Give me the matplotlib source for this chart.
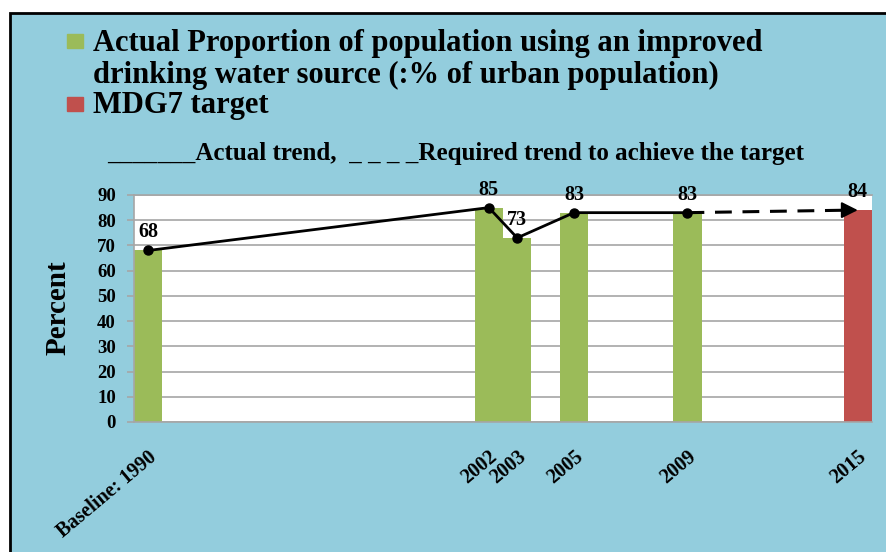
import numpy as np
import matplotlib.pyplot as plt
from matplotlib.patches import Rectangle

plt.rcParams['font.family'] = ['Liberation Serif', 'DejaVu Serif']
plt.rcParams['font.weight'] = 'bold'

# Urban population using an improved drinking water source (%)
years = [1990, 2002, 2003, 2005, 2009, 2015]
tick_labels = ["Baseline: 1990", "2002", "2003", "2005", "2009", "2015"]
values = [68, 85, 73, 83, 83, 84]
is_target = [False, False, False, False, False, True]

GREEN = '#9BBB59'
RED = '#C0504D'
PANEL = '#93CDDD'
GRID = '#A6A6A6'

W, H = 886, 552
fig = plt.figure(figsize=(W / 100, H / 100), dpi=100)
fig.patch.set_facecolor('white')


def px(x, y):
    # pixel position (from top-left) -> figure fraction
    return x / W, 1 - y / H


# blue backdrop with black frame on top/left
fig.add_artist(Rectangle((10 / W, -0.1), 1.2, 1 - 13 / H + 0.1,
                         transform=fig.transFigure, facecolor=PANEL,
                         edgecolor='black', linewidth=2, zorder=0))

ax = fig.add_axes([134 / W, 1 - 422 / H, 738 / W, 227 / H])
ax.set_facecolor('white')

colors = [RED if t else GREEN for t in is_target]
ax.bar(years, values, width=1, align='edge', color=colors, zorder=2)

ax.set_xlim(1990, 2016)
ax.set_ylim(0, 90)
ax.set_yticks(range(0, 91, 10))
ax.yaxis.grid(True, color=GRID, linewidth=1.2)
ax.set_axisbelow(True)
for side in ['left', 'bottom', 'top']:
    ax.spines[side].set_color(GRID)
    ax.spines[side].set_linewidth(1.2)
ax.spines['right'].set_visible(False)

# actual trend (solid) and required trend (dashed arrow)
mid = np.array(years) + 0.5
ax.plot(mid[:5], values[:5], color='black', lw=2, marker='o', ms=6.5, zorder=4)
ax.plot([mid[4], mid[5] - 0.25], [values[4], values[5]], color='black', lw=2.2,
        dashes=(5.5, 3.5), zorder=4)
ax.annotate('', xy=(mid[5], values[5]), xytext=(mid[5] - 0.3, values[5]),
            arrowprops=dict(arrowstyle='-|>,head_length=0.7,head_width=0.35',
                            color='black', lw=1.5, shrinkA=0, shrinkB=0,
                            mutation_scale=14), zorder=5)

for x, v in zip(mid, values):
    ax.annotate(str(v), (x, v), xytext=(0, 13), textcoords='offset points',
                ha='center', va='center', fontsize=14.5, fontweight='bold', zorder=6)

ax.set_xticks(mid, tick_labels, rotation=40, ha='right', va='top',
              rotation_mode='anchor')
ax.tick_params(axis='x', length=0, pad=18, labelsize=14.5)
ax.tick_params(axis='y', length=5, color=GRID, width=1.2, pad=8, labelsize=13.5)

fig.text(*px(58, 308), 'Percent', rotation=90, ha='center', va='center',
         fontsize=21)

# legend block
fig.add_artist(Rectangle(px(67, 48), 16 / W, 14 / H, transform=fig.transFigure,
                         color=GREEN))
fig.add_artist(Rectangle(px(67, 111), 16 / W, 14 / H, transform=fig.transFigure,
                         color=RED))
fig.text(*px(93, 51), "Actual Proportion of population using an improved",
         fontsize=22, va='baseline')
fig.text(*px(93, 83), "drinking water source (:% of urban population)",
         fontsize=22, va='baseline')
fig.text(*px(93, 113), "MDG7 target", fontsize=22, va='baseline')
fig.text(*px(107, 160),
         "_______Actual trend,  _ _ _ _Required trend to achieve the target",
         fontsize=18, va='baseline')

fig.savefig('out.png', dpi=100)
